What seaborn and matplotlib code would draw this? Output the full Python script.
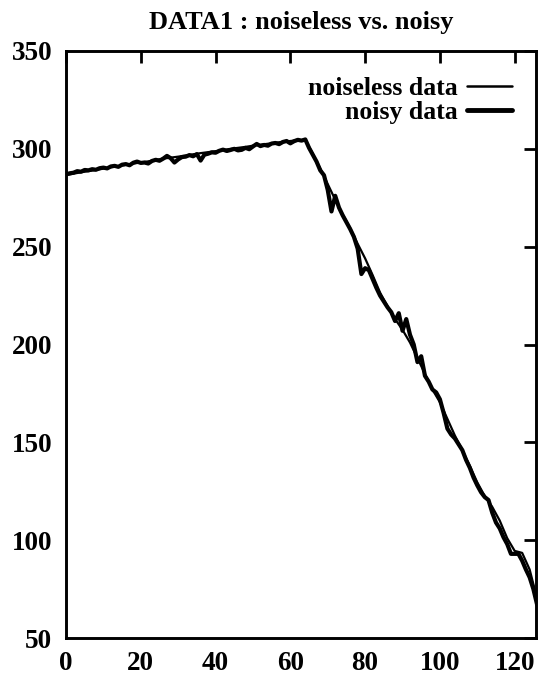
import matplotlib
matplotlib.use("Agg")
import matplotlib.pyplot as plt
import seaborn as sns
import numpy as np
import pandas as pd

# ---- data ----
noiseless_x = [0, 2, 4, 6, 8, 10, 12, 14, 16, 18, 20, 22, 24, 26, 28, 30, 32, 34, 36, 38,
               40, 42, 44, 46, 48, 50, 52, 54, 56, 58, 60, 62, 64, 66, 68, 70, 72, 74, 76,
               78, 80, 82, 84, 86, 88, 90, 92, 94, 96, 98, 100, 102, 104, 106, 108, 110,
               112, 114, 116, 118, 120, 122, 124, 126]
noiseless_y = [286.5, 287.3, 288.0, 288.6, 289.2, 289.9, 290.6, 291.2, 291.8, 292.5, 293.0,
               293.6, 294.3, 295.0, 295.5, 296.0, 296.6, 297.2, 297.8, 298.3, 298.8, 299.4,
               300.0, 300.5, 301.0, 301.6, 302.1, 302.6, 303.1, 303.6, 304.0, 304.4, 304.6,
               297.5, 290.0, 282.0, 274.0, 266.5, 259.5, 251.5, 244.0, 235.5, 226.5, 219.5,
               213.0, 207.5, 201.0, 193.0, 185.0, 177.0, 170.5, 162.0, 153.5, 146.0, 138.0,
               129.5, 122.5, 117.0, 110.0, 101.0, 94.5, 93.5, 85.0, 70.0]

noisy_x = list(range(0, 127))
noisy_y = [287.0, 287.5, 287.8, 288.6, 288.3, 289.2, 289.0, 289.6, 289.3, 290.1,
           290.4, 290.0, 291.0, 291.3, 290.8, 291.9, 292.2, 291.6, 292.9, 293.5,
           292.8, 293.0, 292.5, 293.8, 294.4, 293.9, 295.0, 296.4, 295.2, 293.0,
           294.6, 295.8, 296.0, 296.8, 296.2, 297.3, 294.0, 297.0, 297.5, 298.2,
           298.0, 299.0, 299.6, 298.9, 299.4, 300.0, 299.2, 299.5, 300.5, 299.8,
           301.2, 302.5, 301.4, 302.0, 301.6, 302.7, 303.0, 302.4, 303.5, 304.0,
           302.8, 303.9, 304.6, 304.2, 304.8, 300.5, 297.0, 293.5, 289.0, 286.5,
           279.0, 268.0, 276.0, 270.0, 266.0, 262.5, 259.0, 255.0, 249.0, 236.0,
           239.0, 238.0, 233.5, 229.0, 225.0, 222.0, 219.0, 216.5, 212.0, 216.0,
           207.0, 213.0, 205.0, 200.0, 191.0, 194.0, 184.0, 181.0, 177.0, 175.5,
           172.0, 165.0, 157.0, 154.0, 152.0, 149.0, 146.0, 141.0, 137.0, 132.0,
           128.0, 124.5, 122.0, 120.5, 114.0, 109.0, 106.0, 101.5, 98.0, 93.0,
           93.0, 93.0, 89.5, 85.0, 81.0, 75.0, 67.0]

title = "DATA1 : noiseless vs. noisy"
labels = ["noiseless data", "noisy data"]
x_ticks = [0, 20, 40, 60, 80, 100, 120]
y_ticks = [50, 100, 150, 200, 250, 300, 350]

# ---- style ----
sns.set_theme(style="white")
plt.rcParams["font.family"] = ["Liberation Serif", "DejaVu Serif"]
plt.rcParams["font.weight"] = "bold"
plt.rcParams["text.color"] = "black"
plt.rcParams["axes.labelcolor"] = "black"

fig = plt.figure(figsize=(5.39, 6.85), dpi=100)
ax = fig.add_axes([66 / 539, 1 - 638 / 685, 470 / 539, 587 / 685])

df_clean = pd.DataFrame({"x": noiseless_x, "y": noiseless_y})
df_noisy = pd.DataFrame({"x": noisy_x, "y": noisy_y})

sns.lineplot(data=df_clean, x="x", y="y", ax=ax, color="black", linewidth=1.6,
             label=labels[0], sort=False)
sns.lineplot(data=df_noisy, x="x", y="y", ax=ax, color="black", linewidth=3.0,
             label=labels[1], sort=False)

ax.set_xlim(0, 125.7)
ax.set_ylim(50, 350)
ax.set_xticks(x_ticks)
ax.set_yticks(y_ticks)
ax.set_xlabel("")
ax.set_ylabel("")
ax.tick_params(axis="both", direction="in", length=8.5, width=2, colors="black",
               labelsize=19.5, top=True, right=True)
ax.tick_params(axis="x", pad=9)
ax.tick_params(axis="y", pad=10)
for lab in ax.get_xticklabels() + ax.get_yticklabels():
    lab.set_fontweight("bold")
for sp in ax.spines.values():
    sp.set_visible(True)
    sp.set_color("black")
    sp.set_linewidth(2.1)

ax.set_title(title, fontsize=19, fontweight="bold", pad=16, color="black")

leg = ax.legend(loc="upper right", bbox_to_anchor=((512 - 66) / 470, 1 - 26 / 587),
                frameon=False, markerfirst=False, fontsize=18.5, handlelength=1.75,
                handletextpad=0.35, labelspacing=0.05, borderpad=0, borderaxespad=0)
for t in leg.get_texts():
    t.set_fontweight("bold")
    t.set_color("black")
leg.get_lines()[0].set_linewidth(1.8)
leg.get_lines()[1].set_linewidth(3.5)

fig.savefig("out.png", dpi=100)
